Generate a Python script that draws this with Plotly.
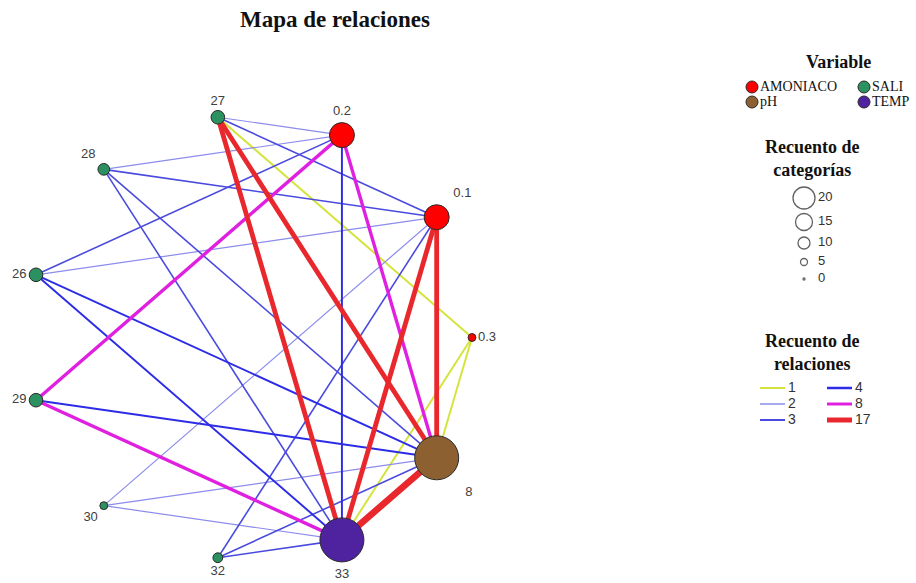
import math
import plotly.graph_objects as go

# ---------------- data ----------------
node_labels = ["0.3", "0.1", "0.2", "27", "28", "26", "29", "30", "32", "33", "8"]
node_vars = ["AMONIACO", "AMONIACO", "AMONIACO", "SALI", "SALI", "SALI", "SALI", "SALI", "SALI", "TEMP", "pH"]
node_counts = [1, 10, 10, 4, 3, 4, 4, 1, 2, 20, 20]

edge_src = ["27", "27", "27", "27", "27", "0.2", "0.2", "0.2", "0.2", "0.2",
            "0.1", "0.1", "0.1", "0.1", "0.1", "0.1", "0.3", "0.3",
            "28", "28", "26", "26", "29", "29", "30", "30", "32", "32", "8"]
edge_dst = ["0.2", "0.1", "0.3", "8", "33", "28", "26", "29", "33", "8",
            "28", "26", "30", "32", "33", "8", "8", "33",
            "33", "8", "8", "33", "8", "33", "8", "33", "8", "33", "33"]
edge_counts = [2, 3, 1, 12, 12, 2, 3, 8, 4, 8,
               3, 2, 2, 3, 12, 12, 1, 1,
               3, 3, 4, 4, 4, 8, 2, 2, 3, 3, 17]

legend_vars = ["AMONIACO", "SALI", "pH", "TEMP"]
legend_size_values = [20, 15, 10, 5, 0]
legend_rel_values = [1, 2, 3, 4, 8, 17]

# ---------------- styles ----------------
var_colors = {"AMONIACO": "#ff0000", "SALI": "#2b9160", "pH": "#8d6032", "TEMP": "#4f23a0"}


def edge_color(v):
    if v <= 1:
        return "#d4e43c"
    if v == 2:
        return "#8c8cec"
    if v == 3:
        return "#4a4ade"
    if v <= 4:
        return "#2c2ce6"
    if v <= 8:
        return "#e020e0"
    return "#e8282c"


def edge_width(v):
    if v <= 1:
        return 2.0
    return 0.5 + 0.36 * v


def node_size(c):
    return 6 + 1.9 * c


# page margin removed by post_script, so figure fills the window
OFF = 0
W, H = 916 - OFF, 583 - OFF


def px(x):
    return (x - OFF) / W


def py(y):
    return (H - (y - OFF)) / H


# circular layout
n = len(node_labels)
pos = {}
textpos = []
for i, lab in enumerate(node_labels):
    a = 2 * math.pi * i / n
    c, s = math.cos(a), math.sin(a)
    pos[lab] = (c, s)
    h = "right" if c > 0.5 else ("left" if c < -0.5 else "center")
    v = "top" if s > 0.5 else ("bottom" if s < -0.5 else "middle")
    textpos.append(f"{v} {h}")

fig = go.Figure()

order = sorted(range(len(edge_counts)), key=lambda k: edge_counts[k])
for k in order:
    (x0, y0), (x1, y1) = pos[edge_src[k]], pos[edge_dst[k]]
    fig.add_trace(go.Scatter(
        x=[x0, x1], y=[y0, y1], mode="lines",
        line=dict(color=edge_color(edge_counts[k]), width=edge_width(edge_counts[k])),
        hoverinfo="skip", showlegend=False))

fig.add_trace(go.Scatter(
    x=[pos[l][0] for l in node_labels], y=[pos[l][1] for l in node_labels],
    mode="markers+text", text=node_labels, textposition=textpos,
    textfont=dict(family="Liberation Sans, Arial", size=13, color="#404040"),
    marker=dict(size=[node_size(c) for c in node_counts],
                color=[var_colors[v] for v in node_vars],
                line=dict(color="#2a2a2a", width=1), opacity=1),
    cliponaxis=False, showlegend=False, hoverinfo="text"))

# ---------------- legend panel (page-pixel auxiliary axes) ----------------
serif = "Liberation Serif, Times New Roman"
sans = "Liberation Sans, Arial"

vx = [752, 864, 752, 864]
vy = [87, 87, 102, 102]
fig.add_trace(go.Scatter(
    x=vx, y=vy, xaxis="x2", yaxis="y2", mode="markers",
    marker=dict(size=12, color=[var_colors[v] for v in legend_vars], line=dict(color="#2a2a2a", width=1)),
    showlegend=False, hoverinfo="skip", cliponaxis=False))
fig.add_trace(go.Scatter(
    x=[x + 8 for x in vx], y=vy, xaxis="x2", yaxis="y2", mode="text",
    text=legend_vars, textposition="middle right",
    textfont=dict(family=serif, size=14, color="#111"),
    showlegend=False, hoverinfo="skip", cliponaxis=False))

sy = [198, 222, 243, 262, 279]
fig.add_trace(go.Scatter(
    x=[804] * len(legend_size_values), y=sy, xaxis="x2", yaxis="y2", mode="markers",
    marker=dict(size=[2 + v for v in legend_size_values], color="white", line=dict(color="#222", width=1.3)),
    showlegend=False, hoverinfo="skip", cliponaxis=False))
fig.add_trace(go.Scatter(
    x=[818] * len(legend_size_values), y=sy, xaxis="x2", yaxis="y2", mode="text",
    text=[str(v) for v in legend_size_values], textposition="middle right",
    textfont=dict(family=sans, size=13, color="#333"),
    showlegend=False, hoverinfo="skip", cliponaxis=False))

rel_x = [760, 760, 760, 827, 827, 827]
rel_y = [388, 404, 420, 388, 404, 420]
leg_w = {1: 2, 2: 1.5, 3: 2, 4: 2.5, 8: 3, 17: 5}
for v, x, y in zip(legend_rel_values, rel_x, rel_y):
    fig.add_trace(go.Scatter(
        x=[x, x + 25], y=[y, y], xaxis="x2", yaxis="y2", mode="lines",
        line=dict(color=edge_color(v), width=leg_w[v]),
        showlegend=False, hoverinfo="skip", cliponaxis=False))
fig.add_trace(go.Scatter(
    x=[x + 28 for x in rel_x], y=rel_y, xaxis="x2", yaxis="y2", mode="text",
    text=[str(v) for v in legend_rel_values], textposition="middle right",
    textfont=dict(family=sans, size=14, color="#333"),
    showlegend=False, hoverinfo="skip", cliponaxis=False))

annots = [
    dict(x=838, y=62, text="<b>Variable</b>"),
    dict(x=812, y=158, text="<b>Recuento de<br>categorías</b>"),
    dict(x=812, y=352, text="<b>Recuento de<br>relaciones</b>"),
]
for a in annots:
    a.update(xref="x2", yref="y2", showarrow=False, xanchor="center", yanchor="middle",
             font=dict(family=serif, size=18, color="#111"))

# circle: centre (249.5, 337.5) px, radius 222.5 px; axis range +-1.07
R, CX, CY, LIM = 222.5, 249.5, 337.5, 1.07
fig.update_layout(
    width=W, height=H, margin=dict(l=0, r=0, t=0, b=0),
    paper_bgcolor="white", plot_bgcolor="white",
    title=dict(text="<b>Mapa de relaciones</b>", x=px(335), xanchor="center",
               y=py(19), yanchor="middle", yref="container",
               font=dict(family=serif, size=23, color="#111")),
    xaxis=dict(domain=[px(CX - R * LIM), px(CX + R * LIM)], range=[-LIM, LIM], visible=False, fixedrange=True),
    yaxis=dict(domain=[py(CY + R * LIM), py(CY - R * LIM)], range=[-LIM, LIM], visible=False, fixedrange=True),
    xaxis2=dict(domain=[px(730), 1], range=[730, 916], visible=False, fixedrange=True, anchor="y2"),
    yaxis2=dict(domain=[0, 1], range=[583, OFF], visible=False, fixedrange=True, anchor="x2"),
    annotations=annots,
    showlegend=False,
)

fig.write_html(
    "out.html",
    config={"displayModeBar": False},
    post_script="document.body.style.margin='0px';document.documentElement.style.overflow='hidden';",
)
